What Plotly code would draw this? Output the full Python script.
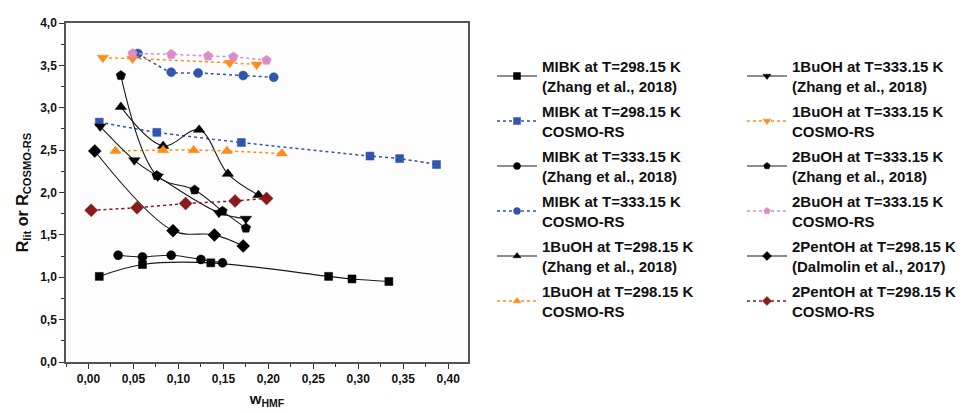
import plotly.graph_objects as go

# ---- data ----
mibk298_lit_x = [0.012, 0.060, 0.136, 0.267, 0.293, 0.334]
mibk298_lit_y = [1.01, 1.15, 1.17, 1.01, 0.98, 0.95]
mibk298_cos_x = [0.012, 0.076, 0.170, 0.313, 0.346, 0.387]
mibk298_cos_y = [2.83, 2.71, 2.59, 2.43, 2.40, 2.33]

mibk333_lit_x = [0.033, 0.060, 0.092, 0.125, 0.149]
mibk333_lit_y = [1.26, 1.24, 1.26, 1.21, 1.17]
mibk333_cos_x = [0.055, 0.092, 0.122, 0.172, 0.206]
mibk333_cos_y = [3.64, 3.42, 3.41, 3.38, 3.36]

buoh1_298_lit_x = [0.036, 0.083, 0.123, 0.155, 0.189]
buoh1_298_lit_y = [3.01, 2.55, 2.74, 2.22, 1.97]
buoh1_298_cos_x = [0.030, 0.083, 0.117, 0.154, 0.215]
buoh1_298_cos_y = [2.49, 2.50, 2.50, 2.49, 2.46]

buoh1_333_lit_x = [0.013, 0.051, 0.077, 0.145, 0.175]
buoh1_333_lit_y = [2.78, 2.38, 2.19, 1.76, 1.69]
buoh1_333_cos_x = [0.016, 0.049, 0.157, 0.187]
buoh1_333_cos_y = [3.59, 3.58, 3.53, 3.51]

buoh2_333_lit_x = [0.036, 0.076, 0.118, 0.149, 0.175]
buoh2_333_lit_y = [3.38, 2.20, 2.03, 1.78, 1.58]
buoh2_333_cos_x = [0.049, 0.092, 0.133, 0.161, 0.198]
buoh2_333_cos_y = [3.64, 3.63, 3.61, 3.60, 3.56]

pent_298_lit_x = [0.007, 0.094, 0.140, 0.172]
pent_298_lit_y = [2.49, 1.55, 1.50, 1.37]
pent_298_cos_x = [0.003, 0.054, 0.108, 0.163, 0.198]
pent_298_cos_y = [1.79, 1.82, 1.87, 1.90, 1.93]

y_ticks = [0.0, 0.5, 1.0, 1.5, 2.0, 2.5, 3.0, 3.5, 4.0]
x_ticks = [0.00, 0.05, 0.10, 0.15, 0.20, 0.25, 0.30, 0.35, 0.40]

BLUE = "#2F55AE"
ORANGE = "#FF8C1A"
PINK = "#DD8CC8"
DRED = "#8B1A1A"
BLACK = "#000000"

FONT = "Liberation Sans, Arial, sans-serif"

fig = go.Figure()
_count = [0]

def add_series(x, y, name, symbol, size, color, lit, legend):
    _count[0] += 1
    if lit:
        line = dict(color="#1a1a1a", width=1.1, shape="spline", smoothing=1.0)
    else:
        line = dict(color=color, width=1.5, dash="dot", shape="spline", smoothing=0.6)
    # plotted series
    fig.add_trace(go.Scatter(
        x=x, y=y, name=name, mode="lines+markers", showlegend=False,
        line=line,
        marker=dict(symbol=symbol, size=size, color=color,
                    line=dict(color=color, width=0.5)),
    ))
    # legend entry (smaller symbol, as in the reference legend)
    leg_line = dict(line)
    leg_line.pop("shape", None)
    leg_line.pop("smoothing", None)
    fig.add_trace(go.Scatter(
        x=[None], y=[None], name=name, mode="lines+markers", legend=legend,
        legendgroup=f"g{_count[0]}",
        line=leg_line,
        marker=dict(symbol=symbol, size=7, color=color,
                    line=dict(color=color, width=0.5)),
    ))

add_series(mibk298_lit_x, mibk298_lit_y, "MIBK at T=298.15 K<br>(Zhang et al., 2018)", "square", 8, BLACK, True, "legend")
add_series(mibk298_cos_x, mibk298_cos_y, "MIBK at T=298.15 K<br>COSMO-RS", "square", 8, BLUE, False, "legend")
add_series(mibk333_lit_x, mibk333_lit_y, "MIBK at T=333.15 K<br>(Zhang et al., 2018)", "circle", 9, BLACK, True, "legend")
add_series(mibk333_cos_x, mibk333_cos_y, "MIBK at T=333.15 K<br>COSMO-RS", "circle", 9, BLUE, False, "legend")
add_series(buoh1_298_lit_x, buoh1_298_lit_y, "1BuOH at T=298.15 K<br>(Zhang et al., 2018)", "triangle-up", 10, BLACK, True, "legend")
add_series(buoh1_298_cos_x, buoh1_298_cos_y, "1BuOH at T=298.15 K<br>COSMO-RS", "triangle-up", 10, ORANGE, False, "legend")

add_series(buoh1_333_lit_x, buoh1_333_lit_y, "1BuOH at T=333.15 K<br>(Zhang et al., 2018)", "triangle-down", 10, BLACK, True, "legend2")
add_series(buoh1_333_cos_x, buoh1_333_cos_y, "1BuOH at T=333.15 K<br>COSMO-RS", "triangle-down", 10, ORANGE, False, "legend2")
add_series(buoh2_333_lit_x, buoh2_333_lit_y, "2BuOH at T=333.15 K<br>(Zhang et al., 2018)", "pentagon", 10, BLACK, True, "legend2")
add_series(buoh2_333_cos_x, buoh2_333_cos_y, "2BuOH at T=333.15 K<br>COSMO-RS", "pentagon", 10, PINK, False, "legend2")
add_series(pent_298_lit_x, pent_298_lit_y, "2PentOH at T=298.15 K<br>(Dalmolin et al., 2017)", "diamond", 10, BLACK, True, "legend2")
add_series(pent_298_cos_x, pent_298_cos_y, "2PentOH at T=298.15 K<br>COSMO-RS", "diamond", 10, DRED, False, "legend2")

legend_common = dict(
    xref="container", yref="container", xanchor="left", yanchor="top",
    bgcolor="rgba(0,0,0,0)", borderwidth=0, tracegroupgap=3,
    font=dict(family=FONT, size=15, color="#111", weight="bold"),
    itemwidth=40, maxheight=400, groupclick="toggleitem",
)

fig.update_layout(
    width=964, height=413,
    margin=dict(l=66, r=496, t=23, b=51),
    paper_bgcolor="white", plot_bgcolor="#fdfdfd",
    separators=",.",
    font=dict(family=FONT, size=12, color="#111"),
    legend=dict(x=492/964, y=1 - 50/413, **legend_common),
    legend2=dict(x=742/964, y=1 - 50/413, **legend_common),
    xaxis=dict(
        range=[-0.025, 0.422], tickvals=x_ticks, tickformat=".2f",
        ticks="outside", ticklen=5, tickwidth=1.2, tickcolor="#333",
        minor=dict(ticks="outside", ticklen=3, tickcolor="#333", dtick=0.025),
        showgrid=False, zeroline=False, automargin=False,
        showline=True, linecolor="#555", linewidth=1.5, mirror=True,
        tickfont=dict(family=FONT, size=12, color="#111", weight="bold"),
        title=dict(text="w<sub>HMF</sub>", standoff=8,
                   font=dict(family=FONT, size=15, color="#111", weight="bold")),
    ),
    yaxis=dict(
        range=[0, 4], tickvals=y_ticks, tickformat=".1f",
        ticks="outside", ticklen=5, tickwidth=1.2, tickcolor="#333",
        minor=dict(ticks="outside", ticklen=3, tickcolor="#333", dtick=0.25),
        showgrid=False, zeroline=False, automargin=False,
        showline=True, linecolor="#555", linewidth=1.5, mirror=True,
        tickfont=dict(family=FONT, size=12, color="#111", weight="bold"),
        title=dict(text="R<sub>lit</sub> or R<sub>COSMO-RS</sub>", standoff=8,
                   font=dict(family=FONT, size=16, color="#111", weight="bold")),
    ),
)

fig.write_html("out.html")
